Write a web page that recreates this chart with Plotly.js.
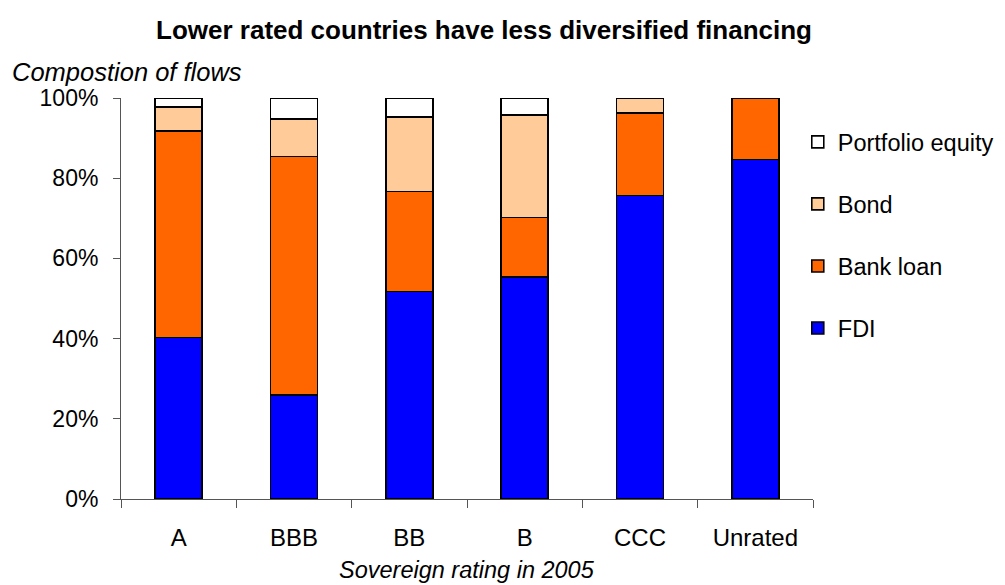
<!DOCTYPE html>
<html>
<head>
<meta charset="utf-8">
<script src="https://cdn.plot.ly/plotly-3.0.1.min.js"></script>
<style>
  html, body { margin: 0; padding: 0; background: #fff; }
  #chart { width: 1005px; height: 585px; }
</style>
</head>
<body>
<div id="chart"></div>
<script>
// Data (percent of flows)
const categories = ["A", "BBB", "BB", "B", "CCC", "Unrated"];
const fdi            = [40.3, 25.9, 51.7, 55.3, 75.7, 84.7];
const bankLoan       = [51.4, 59.5, 25.0, 14.9, 20.5, 15.3];
const bond           = [6.0, 9.4, 18.5, 25.5, 3.8, null];
const portfolioEquity= [2.3, 5.2, 4.8, 4.3, null, null];
const yTickValues    = [0, 20, 40, 60, 80, 100];
const yTickLabels    = ["0%", "20%", "40%", "60%", "80%", "100%"];

const FONT = "Liberation Sans, Arial, sans-serif";
const edge = { color: "#000000", width: 1.6 };

function series(name, values, color, rank) {
  return {
    type: "bar", name: name, x: categories, y: values,
    legendgroup: name, legendrank: rank,
    marker: { color: color, line: edge },
    hoverinfo: "x+y+name"
  };
}

const traces = [
  series("FDI", fdi, "#0000FF", 4),
  series("Bank loan", bankLoan, "#FF6600", 3),
  series("Bond", bond, "#FFCC99", 2),
  series("Portfolio equity", portfolioEquity, "#FFFFFF", 1)
];

const layout = {
  width: 1005, height: 585,
  margin: { l: 121, r: 192, t: 98, b: 86, pad: 0, autoexpand: false },
  paper_bgcolor: "#ffffff", plot_bgcolor: "#ffffff",
  barmode: "stack",
  bargap: 0.592,
  font: { family: FONT, color: "#000000", size: 23 },
  title: {
    text: "<b>Lower rated countries have less diversified financing</b>",
    font: { family: FONT, size: 26, color: "#000000" },
    xref: "container", x: 0.4816, xanchor: "center",
    yref: "container", y: 0.9487, yanchor: "middle"
  },
  xaxis: {
    type: "category",
    range: [-0.5, 5.5],
    showline: true, linecolor: "#555555", linewidth: 1,
    ticks: "outside", tickson: "boundaries", ticklen: 8, tickcolor: "#555555",
    tickfont: { family: FONT, size: 24, color: "#000000" },
    ticklabelstandoff: 17,
    showgrid: false, zeroline: false, fixedrange: true
  },
  yaxis: {
    range: [0, 100],
    tickvals: yTickValues, ticktext: yTickLabels,
    showline: true, linecolor: "#555555", linewidth: 1,
    ticks: "outside", ticklen: 7, tickcolor: "#555555",
    tickfont: { family: FONT, size: 23, color: "#000000" },
    ticklabelstandoff: 10,
    showgrid: false, zeroline: false, fixedrange: true
  },
  legend: {
    x: 0.978, xanchor: "left",
    y: 0.945, yanchor: "top",
    traceorder: "grouped",
    tracegroupgap: 28.5,
    font: { family: FONT, size: 23.5, color: "#000000" },
    bgcolor: "rgba(0,0,0,0)", borderwidth: 0
  },
  annotations: [
    {
      text: "Compostion of flows",
      xref: "paper", yref: "paper",
      x: -0.1604, xanchor: "left",
      y: 1.0648, yanchor: "middle",
      showarrow: false,
      font: { family: FONT, size: 25.5, style: "italic", color: "#000000" }
    },
    {
      text: "Sovereign rating in 2005",
      xref: "paper", yref: "paper",
      x: 0.5, xanchor: "center",
      y: -0.178, yanchor: "middle",
      showarrow: false,
      font: { family: FONT, size: 23.5, style: "italic", color: "#000000" }
    }
  ],
  showlegend: true
};

Plotly.newPlot("chart", traces, layout, { displayModeBar: false, staticPlot: true });
</script>
</body>
</html>
